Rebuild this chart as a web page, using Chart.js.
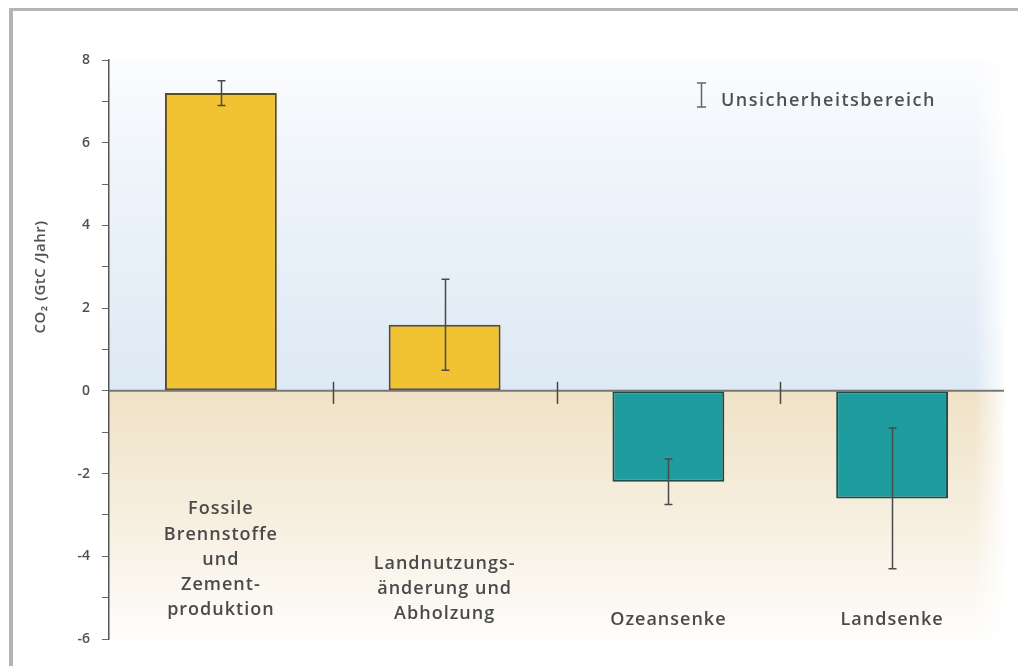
<!DOCTYPE html>
<html>
<head>
<meta charset="utf-8">
<script src="https://cdn.jsdelivr.net/npm/chart.js@4/dist/chart.umd.min.js"></script>
<style>
  html, body { margin: 0; padding: 0; background: #fff; }
  #wrap { width: 1018px; height: 666px; position: relative; }
</style>
</head>
<body>
<div id="wrap"><canvas id="co2Chart" width="1018" height="666"></canvas></div>
<script>
// data
const categories = ['Fossile Brennstoffe und Zementproduktion', 'Landnutzungsänderung und Abholzung', 'Ozeansenke', 'Landsenke'];
const labelLines = [
  ['Fossile', 'Brennstoffe', 'und', 'Zement-', 'produktion'],
  ['Landnutzungs-', 'änderung und', 'Abholzung'],
  ['Ozeansenke'],
  ['Landsenke']
];
const flux = [7.2, 1.6, -2.2, -2.6];
const errLow = [6.9, 0.5, -2.75, -4.3];
const errHigh = [7.5, 2.7, -1.65, -0.9];
const yTicks = [8, 6, 4, 2, 0, -2, -4, -6];

const fontFam = '"Open Sans", "Noto Sans", sans-serif';

// background: blue above zero, beige below
const bgPlugin = {
  id: 'bg',
  beforeDraw(chart) {
    const { ctx, chartArea: a, scales: { y } } = chart;
    const y0 = y.getPixelForValue(0);
    ctx.save();
    let g = ctx.createLinearGradient(0, a.top, 0, y0);
    g.addColorStop(0, '#fbfcfe');
    g.addColorStop(0.35, '#eef4fa');
    g.addColorStop(1, '#dde9f4');
    ctx.fillStyle = g;
    ctx.fillRect(a.left, a.top, a.right - a.left, y0 - a.top);
    g = ctx.createLinearGradient(0, y0, 0, a.bottom);
    g.addColorStop(0, '#efe2c6');
    g.addColorStop(0.5, '#f6efdf');
    g.addColorStop(1, '#fefdfb');
    ctx.fillStyle = g;
    ctx.fillRect(a.left, y0, a.right - a.left, a.bottom - y0);
    // fade to white at right edge
    g = ctx.createLinearGradient(a.right - 30, 0, a.right + 4, 0);
    g.addColorStop(0, 'rgba(255,255,255,0)');
    g.addColorStop(1, 'rgba(255,255,255,1)');
    ctx.fillStyle = g;
    ctx.fillRect(a.right - 30, a.top, 34, a.bottom - a.top);
    ctx.restore();
  }
};

// zero line, error bars, labels, legend, frame
const decoPlugin = {
  id: 'deco',
  afterDatasetsDraw(chart) {
    const { ctx, chartArea: a, scales: { x, y } } = chart;
    const y0 = y.getPixelForValue(0);
    ctx.save();
    // zero line
    ctx.strokeStyle = '#777';
    ctx.lineWidth = 2;
    ctx.beginPath();
    ctx.moveTo(a.left, y0);
    ctx.lineTo(a.right, y0);
    ctx.stroke();
    // category boundary ticks
    ctx.strokeStyle = '#444';
    ctx.lineWidth = 1.5;
    for (let i = 0; i < categories.length - 1; i++) {
      const bx = Math.round(x.getPixelForValue(i + 0.5)) + 0.5;
      ctx.beginPath();
      ctx.moveTo(bx, y0 - 9);
      ctx.lineTo(bx, y0 + 13);
      ctx.stroke();
    }
    // error bars
    ctx.strokeStyle = '#4a4a4a';
    ctx.lineWidth = 1.5;
    for (let i = 0; i < flux.length; i++) {
      const cx = Math.round(x.getPixelForValue(i)) + 0.5;
      const yl = y.getPixelForValue(errLow[i]);
      const yh = y.getPixelForValue(errHigh[i]);
      ctx.beginPath();
      ctx.moveTo(cx, yl); ctx.lineTo(cx, yh);
      ctx.moveTo(cx - 4, yl); ctx.lineTo(cx + 4, yl);
      ctx.moveTo(cx - 4, yh); ctx.lineTo(cx + 4, yh);
      ctx.stroke();
    }
    // category labels, bottom aligned
    const bottoms = [610, 614, 620, 620];
    ctx.fillStyle = '#4a4a4a';
    ctx.font = '600 18px ' + fontFam;
    ctx.letterSpacing = '1px';
    ctx.textAlign = 'center';
    ctx.textBaseline = 'middle';
    labelLines.forEach((lines, i) => {
      const cx = x.getPixelForValue(i);
      lines.forEach((t, j) => {
        ctx.fillText(t, cx, bottoms[i] - (lines.length - 1 - j) * 25.2);
      });
    });
    // legend
    ctx.strokeStyle = '#666';
    ctx.lineWidth = 1.5;
    ctx.beginPath();
    ctx.moveTo(701.5, 83); ctx.lineTo(701.5, 107);
    ctx.moveTo(697, 83); ctx.lineTo(706, 83);
    ctx.moveTo(697, 107); ctx.lineTo(706, 107);
    ctx.stroke();
    ctx.textAlign = 'left';
    ctx.fillStyle = '#505050';
    ctx.letterSpacing = '1.5px';
    ctx.fillText('Unsicherheitsbereich', 721, 101);
    // y title
    ctx.translate(41, 277);
    ctx.rotate(-Math.PI / 2);
    ctx.textAlign = 'center';
    ctx.letterSpacing = '0.5px';
    ctx.font = '600 15px ' + fontFam;
    ctx.fillText('CO₂ (GtC /Jahr)', 0, 0);
    ctx.restore();
    // frame
    ctx.save();
    ctx.fillStyle = '#b4b4b4';
    ctx.fillRect(9, 8, 4, 666);
    ctx.fillRect(9, 8, 1009, 3);
    ctx.restore();
  }
};

const ctx = document.getElementById('co2Chart');

new Chart(ctx, {
  type: 'bar',
  data: {
    labels: categories,
    datasets: [{
      label: 'CO2',
      data: flux,
      backgroundColor: flux.map(v => v >= 0 ? '#f1c232' : '#1f9c9e'),
      borderColor: flux.map(v => v >= 0 ? '#5e4b1c' : '#1d4b4c'),
      borderWidth: 2,
      borderSkipped: false,
      categoryPercentage: 1,
      barPercentage: 0.5
    }]
  },
  plugins: [bgPlugin, decoPlugin],
  options: {
    responsive: false,
    animation: false,
    layout: {
      padding: { top: 60, right: 14, bottom: 27, left: 0 }
    },
    scales: {
      x: {
        display: false
      },
      y: {
        min: -6,
        max: 8,
        afterFit(s) { s.width = 109; },
        afterBuildTicks(s) {
          s.ticks = [];
          for (let v = -6; v <= 8; v++) s.ticks.push({ value: v });
        },
        ticks: {
          color: '#505050',
          font: { size: 14, family: fontFam, weight: '600' },
          padding: 12,
          callback: v => yTicks.includes(v) ? String(v) : ''
        },
        grid: {
          drawOnChartArea: false,
          tickLength: 7,
          color: '#666'
        },
        border: { display: true, color: '#555', width: 1.5 }
      }
    },
    plugins: {
      legend: { display: false },
      tooltip: { enabled: false }
    }
  }
});
</script>
</body>
</html>
